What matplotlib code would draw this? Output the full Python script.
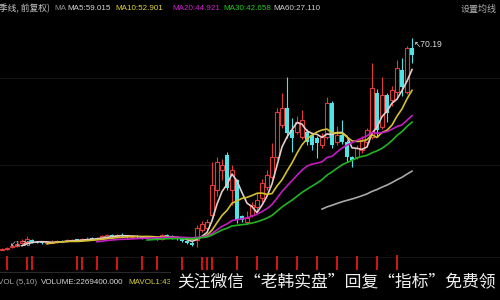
import numpy as np
import pandas as pd
import matplotlib
matplotlib.use("Agg")
import matplotlib.pyplot as plt
from matplotlib.patches import Rectangle
from matplotlib.lines import Line2D

# ---------------- data ----------------
opens = [1.5, 1.7, 2.2, 2.7, 3.5, 4.1, 4.7, 4.1, 3.9, 3.5,
         3.8, 4.0, 4.4, 4.2, 4.4, 4.8, 4.6, 4.8, 5.2, 5.0,
         5.4, 5.7, 6.3, 5.9, 6.4, 6.0, 5.5, 5.9, 5.6, 5.2,
         5.7, 5.4, 5.0, 6.2, 6.0, 5.4, 5.0, 4.3,
         3.8, 4.64, 7.9, 8.5, 12.75, 20.87, 27.36, 32.23, 20.87, 24.11,
         12.4, 10.5, 12.75, 15.35, 18.27, 21.84, 25.09, 31.58, 41.97, 47.48,
         40.34, 39.69, 38.07, 39.69, 38.72, 37.75, 35.47, 38.07, 49.1, 36.45,
         38.72, 36.45, 31.58, 31.58, 33.85, 36.45, 38.07, 52.35, 41.32, 51.7,
         50.08, 52.68, 59.82, 52.68, 66.96]
closes = [1.6, 2.1, 2.6, 3.4, 4.2, 4.8, 4.0, 3.8, 3.6, 3.9,
          4.1, 4.3, 4.2, 4.5, 4.7, 4.6, 4.9, 5.1, 5.0, 5.4,
          5.8, 6.2, 6.0, 6.3, 5.9, 5.6, 5.8, 5.5, 5.3, 5.6,
          5.2, 5.0, 6.1, 5.9, 5.3, 4.9, 4.2, 3.6,
          3.0, 8.53, 9.83, 10.5, 22.49, 29.95, 28.98, 21.52, 27.36, 11.13,
          11.1, 11.8, 16.0, 17.62, 23.14, 25.74, 31.58, 46.18, 47.48, 39.37,
          37.75, 42.94, 43.59, 36.45, 35.47, 36.12, 38.07, 49.1, 35.47, 38.72,
          36.45, 31.58, 30.6, 34.5, 37.1, 40.34, 54.0, 40.34, 51.7, 45.86,
          53.33, 60.47, 54.3, 66.96, 64.69]
highs = [2.0, 2.4, 3.0, 3.8, 4.8, 5.8, 4.9, 4.4, 4.1, 4.2,
         4.5, 4.7, 4.7, 4.8, 5.0, 5.1, 5.2, 5.5, 5.5, 5.7,
         6.2, 6.6, 6.7, 6.7, 6.8, 6.3, 6.1, 6.2, 5.9, 5.9,
         6.0, 5.7, 6.6, 6.6, 6.3, 5.8, 5.3, 4.6,
         4.2, 9.51, 10.8, 11.5, 30.0, 31.6, 31.0, 33.2, 29.0, 24.5,
         12.8, 14.0, 17.0, 20.0, 24.5, 27.4, 36.12, 47.5, 52.35, 57.5,
         44.24, 45.0, 46.8, 40.5, 39.5, 38.5, 39.5, 51.05, 49.8, 41.5,
         43.5, 37.0, 32.0, 35.5, 38.5, 41.0, 62.09, 53.5, 57.55, 52.5,
         54.5, 63.06, 63.71, 67.5, 70.19]
lows = [1.45, 1.39, 2.0, 2.5, 3.3, 3.9, 3.8, 3.5, 3.3, 3.3,
        3.5, 3.8, 3.9, 4.0, 4.2, 4.3, 4.4, 4.6, 4.7, 4.8,
        5.1, 5.4, 5.7, 5.6, 5.6, 5.3, 5.2, 5.2, 5.0, 4.9,
        4.9, 4.7, 4.7, 5.6, 5.0, 4.6, 3.9, 3.3,
        2.6, 2.36, 7.2, 8.0, 12.0, 19.0, 24.0, 20.9, 16.0, 10.2,
        10.5, 9.8, 12.0, 14.0, 17.0, 21.0, 24.5, 31.0, 41.0, 37.75,
        33.2, 39.0, 37.5, 35.5, 33.85, 31.25, 34.5, 37.5, 34.5, 35.5,
        35.8, 30.0, 28.33, 31.0, 33.0, 35.5, 37.5, 38.0, 40.5, 43.0,
        48.0, 51.0, 51.5, 52.0, 62.09]

vol_idx = [1, 5, 6, 15, 16, 19, 23, 28, 31, 36, 40, 41, 42, 47,
           51, 55, 59, 63, 67, 71, 75, 79]
vol_vals = [2.1e6, 2.0e6, 2.05e6, 2.1e6, 2.0e6, 2.05e6, 2.0e6, 2.1e6, 2.05e6, 2.0e6,
            1.9e6, 1.95e6, 1.9e6, 2.1e6, 2.15e6, 2.1e6, 2.15e6, 2.1e6, 2.15e6, 2.1e6,
            2.15e6, 2.2e6]

ma_periods = [5, 10, 20, 30, 60]
ma_labels = ["MA5:59.015", "MA10:52.901", "MA20:44.921", "MA30:42.658", "MA60:27.110"]
hi_label = "70.19"
lo_label = "1.39"

# ---------------- style ----------------
W, H = 500, 300
UP = "#e03a3a"
DOWN = "#4fe3e6"
ma_colors = ["#e6cccc", "#d2c032", "#c21cc2", "#22b422", "#a8a8a8"]
ma_first = [0, 0, 0, 0, 64]   # the grey MA60 only shows up from here
latin = ["Liberation Sans", "DejaVu Sans"]
cjk = ["Noto Sans CJK SC", "DejaVu Sans"]
FS = 5.8


def fx(px):
    return px / W


def fy(py):
    return 1 - py / H


fig = plt.figure(figsize=(5, 3), dpi=100, facecolor="black")

# price panel: candle i sits at pixel 2 + 5 i
ax = fig.add_axes([0, 0, 1, 1])
ax.set_facecolor("black")
ax.set_xlim(-0.4, 99.6)
ax.set_ylim(-14.84, 82.53)
ax.axis("off")

df = pd.DataFrame({"o": opens, "c": closes, "h": highs, "l": lows})
x = np.arange(len(df))
up = df["c"] >= df["o"]

ax.vlines(x[up], df["l"][up], df["h"][up], color=UP, lw=0.8, zorder=2)
ax.vlines(x[~up], df["l"][~up], df["h"][~up], color=DOWN, lw=0.8, zorder=2)
ax.bar(x[up], (df["c"] - df["o"])[up], bottom=df["o"][up], width=0.7,
       facecolor="black", edgecolor=UP, lw=0.8, zorder=3)
ax.bar(x[~up], (df["o"] - df["c"])[~up], bottom=df["c"][~up], width=0.7,
       color=DOWN, lw=0, zorder=3)

for p, col, start in zip(ma_periods, ma_colors, ma_first):
    ma = df["c"].rolling(p).mean()
    keep = x >= start
    ax.plot(x[keep], ma[keep], color=col, lw=1.2, zorder=4)

# high / low marks
i_hi = int(df["h"].idxmax())
i_lo = int(df["l"].idxmin())
ax.annotate("\u2196" + hi_label, xy=(i_hi, df["h"][i_hi]), xytext=(2, -6),
            textcoords="offset pixels", ha="left", va="center",
            color="#d8d8d8", fontsize=6.2, family=latin)
ax.annotate("\u2199" + lo_label, xy=(i_lo, df["l"][i_lo]), xytext=(3, 5),
            textcoords="offset pixels", ha="left", va="center",
            color="#d8d8d8", fontsize=5.6, family=latin)

# faint grid
for gy in [78, 165, 257]:
    fig.add_artist(Line2D([0, 1], [fy(gy), fy(gy)], color="#1a1a1a", lw=0.6, zorder=0))
fig.add_artist(Line2D([0, fx(170)], [fy(272), fy(272)], color="#2a2a2a", lw=0.8, zorder=1))

# volume panel
vax = fig.add_axes([0, fy(270), 1, 16 / H])
vax.patch.set_alpha(0)
vax.set_xlim(-0.4, 99.6)
vax.set_ylim(0, 2.4e6)
vax.axis("off")
vax.bar(vol_idx, vol_vals, width=0.55, color="#cc1616", lw=0)

# top legend
fig.text(fx(-4), fy(9), "(季线, 前复权)", color="#c8c8c8", fontsize=6.3,
         family=cjk, va="center", ha="left")
fig.text(fx(54), fy(9), "MA", color="#909090", fontsize=FS, family=latin, va="center")
ma_x = [67, 115, 172, 223, 273]
for px, lab, col in zip(ma_x, ma_labels, ["#d8d8d8", "#e2d63a", "#d020d0", "#22cc22", "#d0d0d0"]):
    fig.text(fx(px), fy(9), lab, color=col, fontsize=FS, family=latin, va="center")
fig.text(fx(497), fy(9), "设置均线", color="#b0b0b0", fontsize=6.5,
         family=cjk, va="center", ha="right")

# bottom legend, partly covered by the watermark box
fig.text(fx(-2), fy(283), "VOL (5,10)", color="#a8a8a8", fontsize=FS,
         family=latin, va="center", zorder=3)
fig.text(fx(41), fy(283), "VOLUME:2269400.000", color="#d8d8d8", fontsize=FS,
         family=latin, va="center", zorder=3)
fig.text(fx(128), fy(283), "MAVOL1:43", color="#d6d03a", fontsize=FS,
         family=latin, va="center", zorder=3)
fig.add_artist(Rectangle((fx(170), 0), 1 - fx(170), fy(273), transform=fig.transFigure,
                         facecolor="black", edgecolor="none", zorder=5))
fig.text(fx(177), fy(283), "关注微信“老韩实盘”回复“指标”免费领", color="#eeeeee",
         fontsize=12.1, family=cjk, va="center", ha="left", zorder=6)

fig.savefig("out.png", dpi=100, facecolor="black")
